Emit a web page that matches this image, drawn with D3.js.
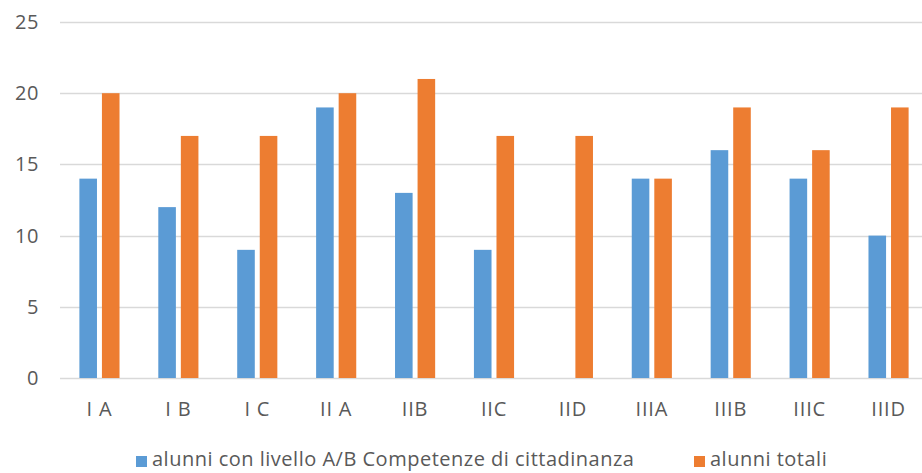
<!DOCTYPE html>
<html>
<head>
<meta charset="utf-8">
<script src="https://cdn.jsdelivr.net/npm/d3@7"></script>
<style>
  body { margin: 0; background: #fff; }
  text { font-family: "Open Sans", sans-serif; fill: #595959; }
</style>
</head>
<body>
<div id="vis"></div>
<script>
// classes and values
var classi = ["I A", "I B", "I C", "II A", "IIB", "IIC", "IID", "IIIA", "IIIB", "IIIC", "IIID"];
var livelloAB = [14, 12, 9, 19, 13, 9, 0, 14, 16, 14, 10];
var totali = [20, 17, 17, 20, 21, 17, 17, 14, 19, 16, 19];
var yTicks = [0, 5, 10, 15, 20, 25];
var serie = ["alunni con livello A/B Competenze di cittadinanza", "alunni totali"];

var width = 922, height = 473;
var margin = {top: 22, right: -6, bottom: 95, left: 60};

var color = {};
color[serie[0]] = "#5B9BD5";
color[serie[1]] = "#ED7D31";

var data = classi.map(function (c, i) {
    return {classe: c, values: [
        {key: serie[0], v: livelloAB[i]},
        {key: serie[1], v: totali[i]}
    ]};
});

var svg = d3.select("#vis").append("svg")
    .attr("width", width)
    .attr("height", height);

var x = d3.scaleBand()
    .domain(classi)
    .range([margin.left, width - margin.right]);

var xInner = d3.scaleBand()
    .domain(serie)
    .range([0, x.bandwidth()])
    .paddingInner(0.22)
    .paddingOuter(0.86);

var y = d3.scaleLinear()
    .domain([0, 25])
    .range([height - margin.bottom, margin.top]);

// gridlines
svg.append("g")
    .selectAll("line")
    .data(yTicks)
    .join("line")
      .attr("x1", margin.left)
      .attr("x2", width)
      .attr("y1", d => Math.round(y(d)) + 0.5)
      .attr("y2", d => Math.round(y(d)) + 0.5)
      .attr("stroke", "#D9D9D9")
      .attr("stroke-width", 1.3);

// y axis labels
var yAxis = g => g
    .attr("transform", `translate(${margin.left},0)`)
    .call(d3.axisLeft(y).tickValues(yTicks).tickSize(0).tickPadding(21))
    .call(g => g.select(".domain").remove())
    .call(g => g.selectAll("text").attr("font-size", 20).attr("letter-spacing", 0.6).style("font-family", null));

svg.append("g").call(yAxis);

// bars
svg.append("g")
    .selectAll("g")
    .data(data)
    .join("g")
      .attr("transform", d => `translate(${x(d.classe)},0)`)
    .selectAll("rect")
    .data(d => d.values)
    .join("rect")
      .attr("x", d => xInner(d.key))
      .attr("width", xInner.bandwidth())
      .attr("y", d => y(d.v))
      .attr("height", d => y(0) - y(d.v))
      .attr("fill", d => color[d.key]);

// x axis labels
var xAxis = g => g
    .attr("transform", `translate(0,${y(0)})`)
    .call(d3.axisBottom(x).tickSize(0).tickPadding(24))
    .call(g => g.select(".domain").remove())
    .call(g => g.selectAll("text").attr("font-size", 20).attr("letter-spacing", 0.8).style("font-family", null));

svg.append("g").call(xAxis);

// legend
var legendPos = [136, 694];
var legend = svg.append("g")
    .selectAll("g")
    .data(serie)
    .join("g")
      .attr("transform", (d, i) => `translate(${legendPos[i]},${459})`);

legend.append("rect")
    .attr("x", 0)
    .attr("y", -3)
    .attr("width", 11)
    .attr("height", 11)
    .attr("fill", d => color[d]);

legend.append("text")
    .attr("x", 16)
    .attr("dy", "0.35em")
    .attr("font-size", 20)
    .attr("letter-spacing", 0.5)
    .text(d => d);
</script>
</body>
</html>
